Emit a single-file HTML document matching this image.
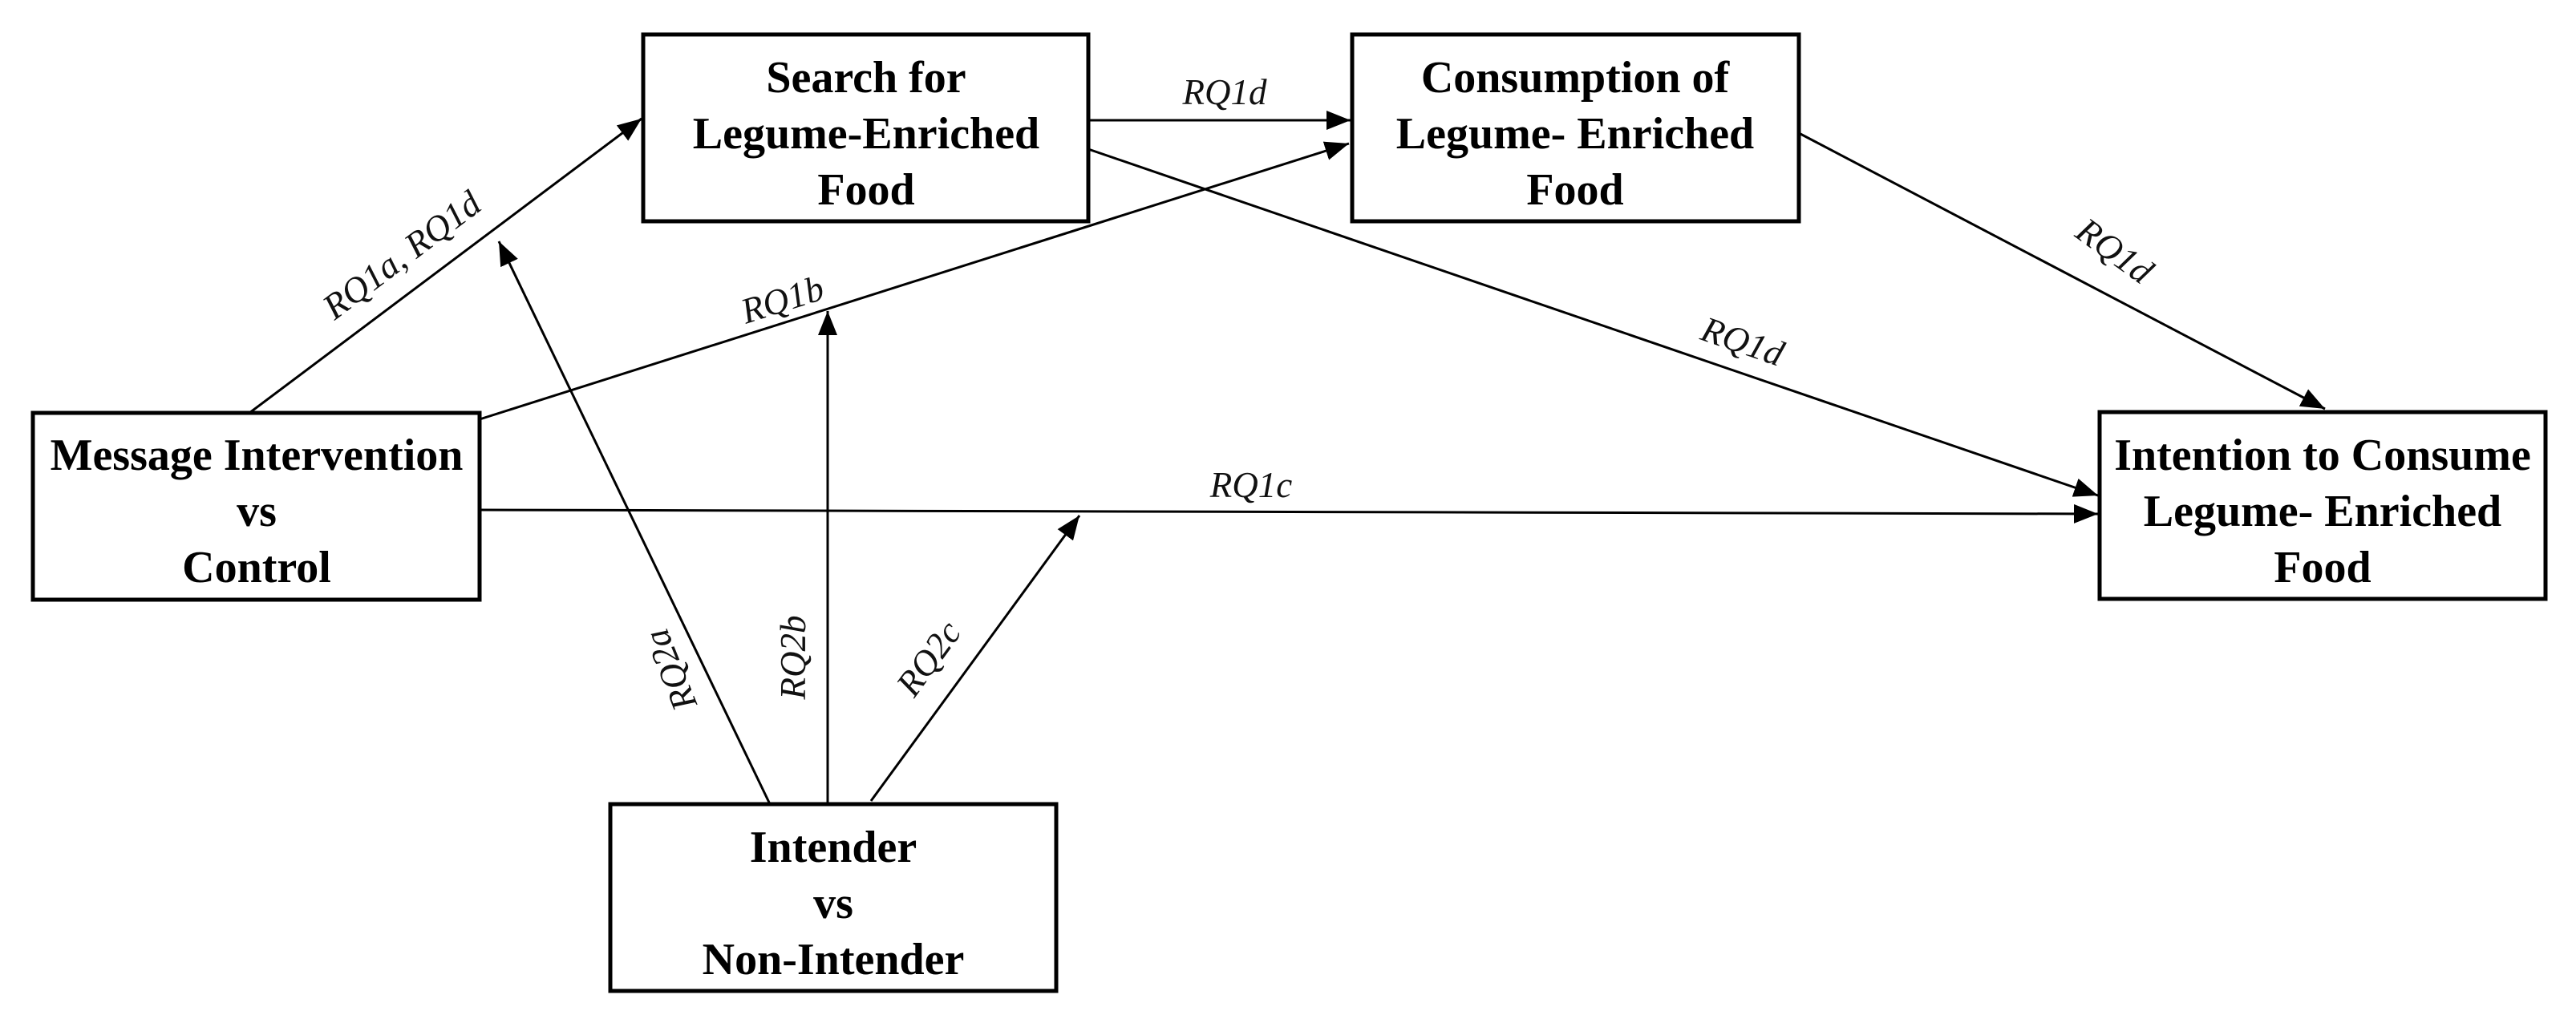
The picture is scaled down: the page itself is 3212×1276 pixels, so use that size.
<!DOCTYPE html>
<html><head><meta charset="utf-8"><style>
html,body{margin:0;padding:0;background:#fff;}
svg{display:block}
.b{font-family:"Liberation Serif",serif;font-weight:bold;font-size:56px;text-anchor:middle;fill:#000}
.l{font-family:"Liberation Serif",serif;font-style:italic;font-size:45px;text-anchor:middle;fill:#111}
</style></head><body>
<svg width="3212" height="1276" viewBox="0 0 3212 1276" xmlns="http://www.w3.org/2000/svg">
<defs>
<marker id="ar" viewBox="0 0 30 24" refX="30" refY="12" markerWidth="30" markerHeight="24" orient="auto" markerUnits="userSpaceOnUse">
<path d="M0,0 L30,12 L0,24 Z" fill="#000"/>
</marker>
</defs>
<g stroke="#000" stroke-width="5" fill="#fff">
<rect x="802" y="43" width="555" height="233"/>
<rect x="1686" y="43" width="557" height="233"/>
<rect x="41" y="515" width="557" height="233"/>
<rect x="2618" y="514" width="556" height="233"/>
<rect x="761" y="1003" width="556" height="233"/>
</g>
<g stroke="#000" stroke-width="3" fill="none" marker-end="url(#ar)">
<line x1="311" y1="515" x2="800" y2="148"/>
<line x1="598" y1="523" x2="1682" y2="179"/>
<line x1="1357" y1="150" x2="1684" y2="150"/>
<line x1="1357" y1="186" x2="2616" y2="618"/>
<line x1="2243" y1="166" x2="2899" y2="510"/>
<line x1="598" y1="636" x2="2616" y2="641"/>
<line x1="960" y1="1003" x2="622" y2="301"/>
<line x1="1032" y1="1003" x2="1032" y2="388"/>
<line x1="1086" y1="999" x2="1346" y2="643"/>
</g>
<text class="b"><tspan x="1080" y="115">Search for</tspan><tspan x="1080" y="185">Legume-Enriched</tspan><tspan x="1080" y="255">Food</tspan></text>
<text class="b"><tspan x="1964" y="115">Consumption of</tspan><tspan x="1964" y="185">Legume- Enriched</tspan><tspan x="1964" y="255">Food</tspan></text>
<text class="b"><tspan x="320" y="586">Message Intervention</tspan><tspan x="320" y="656">vs</tspan><tspan x="320" y="726">Control</tspan></text>
<text class="b"><tspan x="2896" y="586">Intention to Consume</tspan><tspan x="2896" y="656">Legume- Enriched</tspan><tspan x="2896" y="726">Food</tspan></text>
<text class="b"><tspan x="1039" y="1075">Intender</tspan><tspan x="1039" y="1145">vs</tspan><tspan x="1039" y="1215">Non-Intender</tspan></text>
<text class="l" transform="translate(510,330) rotate(-37)">RQ1a, RQ1d</text>
<text class="l" transform="translate(980,388) rotate(-17.6)">RQ1b</text>
<text class="l" x="1527" y="130">RQ1d</text>
<text class="l" transform="translate(2628,325) rotate(36)">RQ1d</text>
<text class="l" transform="translate(2168,440) rotate(19)">RQ1d</text>
<text class="l" x="1560" y="620">RQ1c</text>
<text class="l" transform="translate(850,830) rotate(-112)">RQ2a</text>
<text class="l" transform="translate(1004,820) rotate(-90)">RQ2b</text>
<text class="l" transform="translate(1170,830) rotate(-54)">RQ2c</text>
</svg>
</body></html>
